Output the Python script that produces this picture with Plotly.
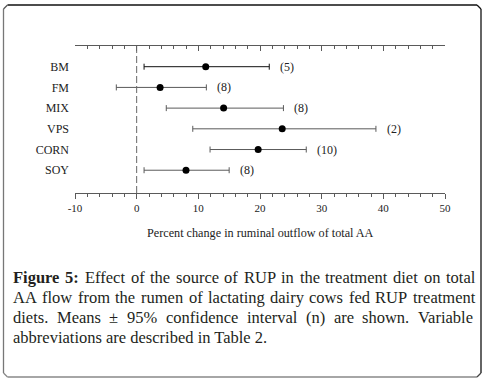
import plotly.graph_objects as go

# ---------------- data ----------------
categories = ["BM", "FM", "MIX", "VPS", "CORN", "SOY"]
means = [11.2, 3.8, 14.1, 23.6, 19.7, 8.0]
lower = [1.2, -3.3, 4.8, 9.1, 11.9, 1.2]
upper = [21.5, 11.3, 23.8, 38.8, 27.5, 15.0]
n_labels = ["(5)", "(8)", "(8)", "(2)", "(10)", "(8)"]
x_tick_vals = [-10, 0, 10, 20, 30, 40, 50]
x_tick_text = ["-10", "0", "10", "20", "30", "40", "50"]
x_title = "Percent change in ruminal outflow of total AA"
caption_lines = [
    "<b>Figure</b> <b>5:</b> Effect of the source of RUP in the treatment diet on total",
    "AA flow from the rumen of lactating dairy cows fed RUP treatment",
    "diets. Means \u00b1 95% confidence interval (n) are shown. Variable",
    "abbreviations are described in Table 2.",
]

# ---------------- geometry helpers ----------------
W, H = 488, 383
L_PX, R_PX, T_PX, B_PX = 75, 445, 46, 193


def px_x(px):
    return (px - L_PX) / (R_PX - L_PX)


def px_y(py):
    return (B_PX - py) / (B_PX - T_PX)


SERIF = "Liberation Serif, Times New Roman, serif"
GRAY = "#5a5a5a"

# Times metrics (1/1000 em) for justification
TIMES = {' ': 250, '!': 333, '%': 833, '(': 333, ')': 333, ',': 250, '-': 333, '.': 250,
         ':': 278, '\u00b1': 564, 'A': 722, 'B': 667, 'C': 667, 'D': 722, 'E': 611, 'F': 556,
         'G': 722, 'M': 889, 'P': 556, 'R': 667, 'T': 611, 'U': 722, 'V': 722,
         'a': 444, 'b': 500, 'c': 444, 'd': 500, 'e': 444, 'f': 333, 'g': 500, 'h': 500,
         'i': 278, 'j': 278, 'k': 500, 'l': 278, 'm': 778, 'n': 500, 'o': 500, 'p': 500,
         'q': 500, 'r': 333, 's': 389, 't': 278, 'u': 500, 'v': 500, 'w': 722, 'x': 500,
         'y': 500, 'z': 444}
TIMES_B = {'F': 611, 'i': 278, 'g': 500, 'u': 556, 'r': 444, 'e': 444, '5': 500, ':': 333}


def word_width(word, size):
    bold = word.startswith("<b>")
    w = word.replace("<b>", "").replace("</b>", "")
    tot = 0
    for ch in w:
        if bold:
            tot += TIMES_B.get(ch, 550)
        elif ch.isdigit():
            tot += 500
        else:
            tot += TIMES.get(ch, 500)
    return tot / 1000 * size


fig = go.Figure()

ypos = list(range(len(categories)))
bm_idx = [0]
other_idx = [i for i in range(len(categories)) if i != 0]

for idx, col in ((other_idx, GRAY), (bm_idx, "#111111")):
    fig.add_trace(go.Scatter(
        x=[means[i] for i in idx],
        y=[ypos[i] for i in idx],
        mode="markers",
        marker=dict(color="black", size=7),
        error_x=dict(type="data", symmetric=False,
                     array=[upper[i] - means[i] for i in idx],
                     arrayminus=[means[i] - lower[i] for i in idx],
                     color=col, thickness=1, width=3),
        showlegend=False, hoverinfo="skip",
    ))

# dummy trace for the top axis
fig.add_trace(go.Scatter(x=[None], y=[None], xaxis="x2", yaxis="y", showlegend=False))

annotations = []
for i, lab in enumerate(n_labels):
    annotations.append(dict(x=upper[i], y=ypos[i], xref="x", yref="y", text=lab,
                            showarrow=False, xanchor="left", yanchor="middle", xshift=9,
                            font=dict(family=SERIF, size=12, color="#222")))

annotations.append(dict(x=px_x(260), y=px_y(233), xref="paper", yref="paper", text=x_title,
                        showarrow=False, xanchor="center", yanchor="middle",
                        font=dict(family=SERIF, size=12.2, color="#222")))

# caption (justified)
CAP_SIZE = 16.5
CAP_LEFT, CAP_RIGHT = 12, 474
line_centers = [277, 297, 317, 337]
for li, line in enumerate(caption_lines):
    yc = px_y(line_centers[li])
    if li == len(caption_lines) - 1:
        annotations.append(dict(x=px_x(CAP_LEFT), y=yc, xref="paper", yref="paper", text=line,
                                showarrow=False, xanchor="left", yanchor="middle", borderpad=0,
                                font=dict(family=SERIF, size=CAP_SIZE, color="#231f20")))
        continue
    words = line.split(" ")
    widths = [word_width(w, CAP_SIZE) for w in words]
    gap = (CAP_RIGHT - CAP_LEFT - sum(widths)) / (len(words) - 1)
    xcur = CAP_LEFT
    for w, ww in zip(words, widths):
        annotations.append(dict(x=px_x(xcur), y=yc, xref="paper", yref="paper", text=w,
                                showarrow=False, xanchor="left", yanchor="middle", borderpad=0,
                                font=dict(family=SERIF, size=CAP_SIZE, color="#231f20")))
        xcur += ww + gap


def seg(x0, y0, x1, y1, color):
    return dict(type="line", xref="paper", yref="paper",
                x0=px_x(x0), y0=px_y(y0), x1=px_x(x1), y1=px_y(y1),
                line=dict(color=color, width=1.3))


FL, FR, FT, FB, RAD = 3.5, 481, 5, 377, 4
shapes = [
    dict(type="line", xref="x", yref="paper", x0=0, x1=0, y0=0, y1=1,
         line=dict(color="#666", width=1, dash="7px,3px")),
    seg(FL + RAD, FT, FR - RAD, FT, "#111"),
    seg(FR, FT + RAD, FR, FB - RAD, "#111"),
    seg(FL, FT + RAD, FL, FB - RAD, "#777"),
    seg(FL + RAD, FB, FR - RAD, FB, "#888"),
    # rounded corners (short diagonals)
    seg(FL, FT + RAD, FL + RAD, FT, "#555"),
    seg(FR - RAD, FT, FR, FT + RAD, "#111"),
    seg(FL, FB - RAD, FL + RAD, FB, "#888"),
    seg(FR - RAD, FB, FR, FB - RAD, "#444"),
]

axis_common = dict(range=[-10, 50], showgrid=False, zeroline=False, showline=True,
                   linecolor=GRAY, linewidth=1, tickcolor=GRAY, tickwidth=1)

fig.update_layout(
    width=W, height=H,
    margin=dict(l=L_PX, r=W - R_PX, t=T_PX, b=H - B_PX),
    paper_bgcolor="white", plot_bgcolor="white",
    xaxis=dict(**axis_common, tickvals=x_tick_vals, ticktext=x_tick_text, ticks="outside", ticklen=5,
               minor=dict(dtick=2, tick0=0, ticks="outside", ticklen=3, tickcolor=GRAY, showgrid=False),
               tickfont=dict(family=SERIF, size=11, color="#222")),
    xaxis2=dict(**axis_common, overlaying="x", side="top", matches="x", tickvals=x_tick_vals,
                ticks="inside", ticklen=5, showticklabels=False,
                minor=dict(dtick=2, tick0=0, ticks="inside", ticklen=3, tickcolor=GRAY, showgrid=False)),
    yaxis=dict(range=[6.1, -1.0], tickvals=ypos, ticktext=categories, showgrid=False,
               zeroline=False, showline=False, ticks="", ticklabelstandoff=5,
               tickfont=dict(family=SERIF, size=12, color="#222")),
    annotations=annotations,
    shapes=shapes,
)

fig.write_html("out.html", config={"displayModeBar": False},
               post_script="document.body.style.margin='0';document.body.style.padding='0';")
